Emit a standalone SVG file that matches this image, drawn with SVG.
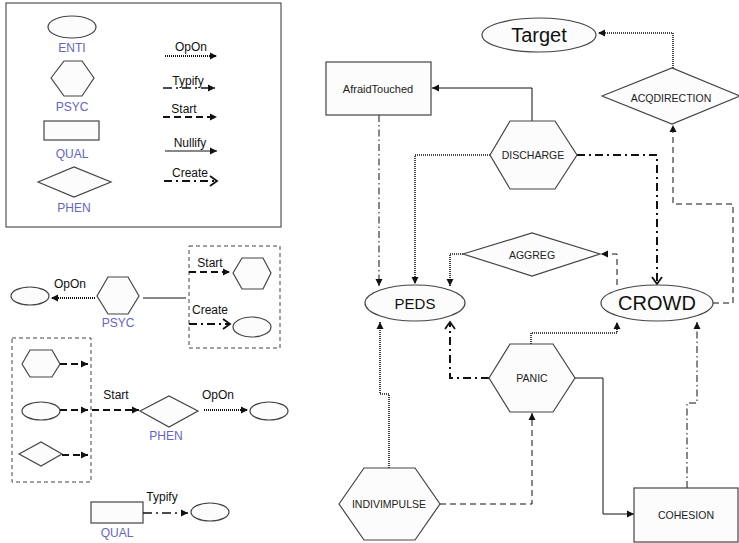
<svg xmlns="http://www.w3.org/2000/svg" width="739" height="543" viewBox="0 0 739 543">
<style>
.shape{fill:#fcfcfc;stroke:#444;stroke-width:1.2}
.lbl{font-family:"Liberation Sans",Arial,sans-serif;font-size:12px;fill:#6464c8;text-anchor:middle}
.t{font-family:"Liberation Sans",Arial,sans-serif;font-size:12px;fill:#111;text-anchor:middle}
.n{font-family:"Liberation Sans",Arial,sans-serif;font-size:10.5px;fill:#222;text-anchor:middle}
.c{fill:none;stroke:#111}
.opon{stroke-width:2;stroke-dasharray:1,1}
.typify{stroke-width:1.5;stroke-dasharray:9,4,2,4}
.start{stroke-width:2;stroke-dasharray:7,4}
.nullify{stroke-width:1}
.create{stroke-width:2;stroke-dasharray:8,4,2,4}
.opon1{stroke-width:1.6;stroke-dasharray:1,1}
.typify1{stroke-width:1;stroke-dasharray:7,3,1.5,3}
.start1{stroke-width:1;stroke-dasharray:6,4}
.create1{stroke-width:2;stroke-dasharray:8,4,2,4}
</style>
<defs>
<marker id="ah" markerUnits="userSpaceOnUse" markerWidth="8" markerHeight="8" refX="7" refY="4" orient="auto"><path d="M0,0.5 L7,4 L0,7.5 z" fill="#111"/></marker>
<marker id="ch" markerUnits="userSpaceOnUse" markerWidth="10" markerHeight="12" refX="8" refY="6" orient="auto"><path d="M1,1 L8,6 L1,11" fill="none" stroke="#111" stroke-width="1.8"/></marker>
</defs>

<g id="legend">
<rect x="6" y="3" width="275" height="224" fill="#fff" stroke="#333" stroke-width="1"/>
<ellipse class="shape" cx="72" cy="27" rx="24" ry="11"/>
<text class="lbl" x="72" y="52">ENTI</text>
<polygon class="shape" points="51,78 64,61 82,61 94,78 82,96 64,96"/>
<text class="lbl" x="72" y="111">PSYC</text>
<rect class="shape" x="44" y="121" width="55" height="19"/>
<text class="lbl" x="72" y="158">QUAL</text>
<polygon class="shape" points="38,182 74,167 111,182 74,197"/>
<text class="lbl" x="74" y="212">PHEN</text>
<line class="c opon" x1="165" y1="56" x2="217" y2="56" marker-end="url(#ah)"/>
<text class="t" x="191" y="51">OpOn</text>
<line class="c typify" x1="163" y1="88" x2="215" y2="88" marker-end="url(#ah)"/>
<text class="t" x="188" y="85">Typify</text>
<line class="c start" x1="163" y1="117" x2="217" y2="117" marker-end="url(#ah)"/>
<text class="t" x="184" y="113">Start</text>
<line class="c nullify" x1="165" y1="151" x2="217" y2="151" marker-end="url(#ah)"/>
<text class="t" x="190" y="147">Nullify</text>
<line class="c create" x1="164" y1="181" x2="217" y2="181" marker-end="url(#ch)"/>
<text class="t" x="190" y="177">Create</text>
</g>

<g id="example1">
<ellipse class="shape" cx="30" cy="296" rx="19" ry="9"/>
<polygon class="shape" points="97,296 108,277 128,277 139,296 128,314 108,314"/>
<text class="lbl" x="118" y="327">PSYC</text>
<rect x="189" y="246" width="91" height="102" fill="none" stroke="#444" stroke-width="1" stroke-dasharray="4,3"/>
<polygon class="shape" points="233,273 242,258 263,258 271,273 263,289 242,289"/>
<ellipse class="shape" cx="252" cy="327" rx="19" ry="10"/>
<line class="c opon" x1="95" y1="298" x2="51" y2="298" marker-end="url(#ah)"/>
<text class="t" x="70" y="288">OpOn</text>
<line class="c nullify" x1="143" y1="298" x2="186" y2="298"/>
<line class="c start" x1="189" y1="272" x2="230" y2="272" marker-end="url(#ah)"/>
<text class="t" x="210" y="267">Start</text>
<line class="c create" x1="189" y1="324" x2="230" y2="324" marker-end="url(#ch)"/>
<text class="t" x="210" y="314">Create</text>
</g>

<g id="example2">
<rect x="12" y="338" width="79" height="144" fill="none" stroke="#444" stroke-width="1" stroke-dasharray="4,3"/>
<polygon class="shape" points="22,364 30,350 52,350 60,364 52,377 30,377"/>
<ellipse class="shape" cx="41" cy="411" rx="19" ry="9"/>
<polygon class="shape" points="19,454 41,442 62,454 41,466"/>
<line class="c start" x1="60" y1="364" x2="88" y2="364" marker-end="url(#ah)"/>
<line class="c start" x1="60" y1="410" x2="88" y2="410" marker-end="url(#ah)"/>
<line class="c start" x1="62" y1="455" x2="88" y2="455" marker-end="url(#ah)"/>
<line class="c start" x1="92" y1="410" x2="139" y2="410" marker-end="url(#ah)"/>
<text class="t" x="116" y="399">Start</text>
<polygon class="shape" points="140,411 169,396 198,411 169,427"/>
<text class="lbl" x="166" y="440">PHEN</text>
<line class="c opon" x1="204" y1="410" x2="248" y2="410" marker-end="url(#ah)"/>
<text class="t" x="218" y="399">OpOn</text>
<ellipse class="shape" cx="269" cy="411" rx="19" ry="9"/>
</g>

<g id="example3">
<rect class="shape" x="91" y="502" width="52" height="21"/>
<text class="lbl" x="117" y="537">QUAL</text>
<line class="c typify" x1="143" y1="513" x2="188" y2="513" marker-end="url(#ah)"/>
<text class="t" x="162" y="501">Typify</text>
<ellipse class="shape" cx="210" cy="512" rx="19" ry="9"/>
</g>

<g id="connectors">
<polyline class="c opon1" points="673,68 673,33 598,33" marker-end="url(#ah)"/>
<polyline class="c nullify" points="532,121 532,88 432,88" marker-end="url(#ah)"/>
<polyline class="c start1" points="713,303 733,303 733,204 673,204 673,125" marker-end="url(#ah)"/>
<polyline class="c create1" points="577,155 657,155 657,284" marker-end="url(#ch)"/>
<polyline class="c opon1" points="490,155 415,155 415,284" marker-end="url(#ah)"/>
<polyline class="c typify1" points="379,115 379,286" marker-end="url(#ah)"/>
<polyline class="c start1" points="617,285 617,254 601,254" marker-end="url(#ah)"/>
<polyline class="c opon1" points="463,254 450,254 450,286" marker-end="url(#ah)"/>
<polyline class="c opon1" points="531,344 531,333 617,333 617,322" marker-end="url(#ah)"/>
<polyline class="c create1" points="489,378 450,378 450,322" marker-end="url(#ch)"/>
<polyline class="c nullify" points="575,378 603,378 603,514 634,514" marker-end="url(#ah)"/>
<polyline class="c typify1" points="687,488 687,403 697,403 697,322" marker-end="url(#ah)"/>
<polyline class="c opon1" points="389,468 389,394 380,394 380,322" marker-end="url(#ah)"/>
<polyline class="c start1" points="440,504 532,504 532,413" marker-end="url(#ah)"/>
</g>

<g id="Target">
<ellipse class="shape" cx="539" cy="35" rx="57" ry="17"/>
<text class="t" x="539" y="42" style="font-size:20px">Target</text>
</g>
<g id="AfraidTouched">
<rect class="shape" x="326" y="62" width="105" height="53"/>
<text class="n" x="378" y="93" style="font-size:11px">AfraidTouched</text>
</g>
<g id="ACQDIRECTION">
<polygon class="shape" points="602,96 672,68 740,96 672,124"/>
<text class="n" x="671" y="102">ACQDIRECTION</text>
</g>
<g id="DISCHARGE">
<polygon class="shape" points="490,155 510,121 555,121 577,155 555,189 510,189"/>
<text class="n" x="533" y="159">DISCHARGE</text>
</g>
<g id="AGGREG">
<polygon class="shape" points="463,254 532,233 600,254 532,276"/>
<text class="n" x="532" y="259">AGGREG</text>
</g>
<g id="PEDS">
<ellipse class="shape" cx="415" cy="303" rx="50" ry="18"/>
<text class="t" x="415" y="309" style="font-size:15px">PEDS</text>
</g>
<g id="CROWD">
<ellipse class="shape" cx="657" cy="303" rx="56" ry="18"/>
<text class="t" x="657" y="310" style="font-size:20px">CROWD</text>
</g>
<g id="PANIC">
<polygon class="shape" points="489,378 510,344 553,344 575,378 553,412 510,412"/>
<text class="n" x="532" y="382">PANIC</text>
</g>
<g id="INDIVIMPULSE">
<polygon class="shape" points="339,504 364,468 415,468 440,504 415,540 364,540"/>
<text class="n" x="389" y="508">INDIVIMPULSE</text>
</g>
<g id="COHESION">
<rect class="shape" x="634" y="488" width="104" height="54"/>
<text class="n" x="686" y="519">COHESION</text>
</g>
</svg>
